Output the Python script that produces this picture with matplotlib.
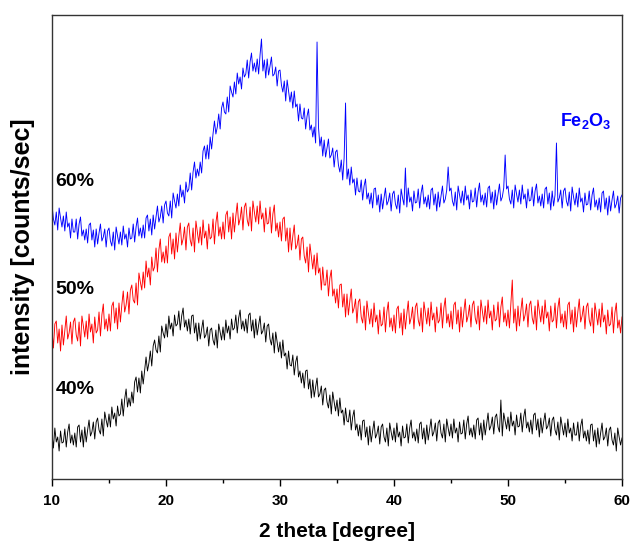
import matplotlib.pyplot as plt
import numpy as np

plt.rcParams['font.family'] = ['Liberation Sans', 'DejaVu Sans']
plt.rcParams['mathtext.fontset'] = 'custom'
plt.rcParams['mathtext.rm'] = 'Liberation Sans:bold'
plt.rcParams['mathtext.it'] = 'Liberation Sans:bold'
plt.rcParams['mathtext.bf'] = 'Liberation Sans:bold'

# 2 theta grid (degrees), 0.125 step
two_theta = np.arange(10, 60.0001, 0.125)

# intensity readings (arbitrary units, curves already offset as in the figure)
int_40 = [
    45, 31, 51, 37, 42, 28, 48, 36,  37, 50, 32, 47, 55, 36, 44, 34,
    46, 32, 52, 54, 37, 49, 32, 52,  37, 49, 59, 43, 47, 57, 40, 57,
    61, 49, 45, 60, 43, 67, 59, 52,  65, 52, 72, 60, 66, 53, 73, 63,
    65, 80, 63, 80, 90, 72, 81, 73,  87, 76, 97, 102, 87, 101, 86, 108,
    95, 109, 122, 108, 116, 128, 113, 133,  139, 129, 126, 143, 127, 153, 146, 141,
    155, 142, 163, 150, 156, 143, 164, 153,  155, 168, 149, 163, 171, 152, 159, 148,
    160, 145, 163, 164, 146, 156, 138, 156,  140, 150, 159, 141, 144, 152, 133, 149,
    151, 139, 134, 149, 131, 155, 147, 139,  152, 139, 159, 146, 153, 140, 160, 149,
    151, 164, 146, 161, 169, 150, 158, 148,  160, 146, 164, 166, 148, 159, 141, 160,
    144, 154, 163, 145, 148, 156, 137, 153,  155, 140, 134, 146, 126, 147, 137, 127,
    137, 121, 139, 123, 126, 110, 128, 114,  113, 124, 104, 117, 123, 102, 108, 96,
    106, 91, 108, 109, 90, 100, 81, 99,  82, 92, 101, 82, 85, 93, 74, 89,
    91, 77, 71, 84, 65, 87, 77, 68,  79, 63, 81, 66, 69, 54, 71, 58,
    57, 69, 49, 62, 69, 49, 55, 43,  54, 39, 58, 59, 42, 52, 34, 53,
    37, 48, 58, 41, 45, 53, 35, 52,  55, 42, 37, 51, 33, 56, 47, 39,
    51, 37, 56, 42, 47, 33, 53, 41,  42, 55, 36, 51, 59, 41, 47, 38,
    50, 36, 55, 57, 40, 51, 35, 54,  39, 50, 60, 43, 47, 56, 38, 56,
    59, 46, 41, 55, 37, 60, 51, 43,  55, 41, 60, 46, 51, 37, 57, 45,
    46, 59, 40, 55, 63, 44, 51, 42,  54, 40, 59, 61, 44, 56, 39, 59,
    44, 55, 66, 49, 53, 62, 45, 62,  65, 52, 47, 79, 43, 66, 58, 50,
    62, 48, 67, 53, 58, 44, 64, 52,  53, 66, 47, 62, 70, 51, 57, 47,
    59, 45, 64, 66, 49, 60, 42, 61,  46, 57, 66, 50, 53, 61, 43, 59,
    62, 49, 44, 57, 39, 62, 53, 44,  56, 42, 60, 46, 51, 38, 56, 44,
    44, 57, 38, 53, 60, 41, 48, 38,  49, 35, 54, 55, 38, 49, 32, 51,
    35, 46, 56, 39, 42, 51, 33, 49,  52, 39, 34, 46, 28, 51, 42, 34,
    41,
]
int_50 = [
    149, 131, 155, 158, 136, 150, 128, 154,  134, 149, 163, 140, 146, 157, 135, 157,
    161, 144, 138, 157, 133, 163, 153, 142,  158, 140, 165, 147, 155, 136, 162, 146,
    149, 167, 143, 164, 175, 150, 160, 148,  165, 148, 173, 177, 156, 171, 150, 176,
    157, 174, 188, 167, 174, 187, 165, 189,  194, 179, 176, 196, 174, 206, 197, 189,
    207, 191, 218, 202, 211, 194, 222, 208,  212, 231, 207, 229, 240, 217, 227, 216,
    233, 216, 242, 246, 225, 240, 220, 246,  227, 243, 256, 234, 240, 252, 229, 252,
    256, 239, 233, 251, 227, 258, 247, 236,  252, 234, 259, 241, 248, 230, 255, 240,
    242, 260, 235, 256, 267, 243, 252, 240,  257, 240, 264, 268, 247, 262, 240, 266,
    247, 263, 276, 254, 260, 272, 249, 272,  276, 259, 253, 272, 248, 278, 267, 257,
    273, 255, 278, 260, 266, 247, 271, 255,  256, 272, 246, 265, 274, 248, 256, 242,
    257, 238, 260, 262, 238, 251, 227, 251,  229, 243, 254, 230, 234, 244, 219, 240,
    242, 223, 216, 232, 207, 235, 222, 210,  224, 204, 226, 206, 211, 189, 212, 194,
    194, 209, 183, 201, 209, 183, 190, 176,  190, 171, 194, 195, 172, 185, 162, 185,
    164, 178, 190, 166, 171, 180, 156, 177,  180, 162, 156, 173, 149, 178, 166, 155,
    170, 152, 176, 157, 164, 145, 169, 153,  155, 172, 147, 167, 177, 152, 161, 148,
    164, 146, 170, 173, 151, 166, 144, 170,  150, 165, 178, 155, 161, 172, 150, 172,
    176, 159, 153, 171, 147, 177, 166, 155,  171, 153, 177, 159, 166, 147, 172, 156,
    159, 176, 151, 171, 181, 156, 165, 152,  168, 150, 174, 177, 155, 169, 147, 172,
    152, 167, 180, 157, 163, 174, 152, 174,  178, 161, 155, 173, 149, 179, 168, 157,
    173, 155, 179, 161, 168, 149, 174, 158,  160, 177, 152, 172, 182, 157, 166, 153,
    169, 151, 175, 199, 156, 170, 148, 173,  153, 168, 181, 158, 164, 175, 152, 174,
    178, 161, 155, 173, 149, 179, 168, 157,  173, 155, 179, 161, 167, 148, 173, 157,
    159, 176, 151, 171, 181, 156, 165, 152,  168, 150, 174, 177, 155, 169, 147, 172,
    152, 167, 180, 157, 163, 173, 150, 172,  176, 159, 153, 171, 146, 176, 165, 154,
    170, 152, 176, 157, 164, 145, 169, 153,  155, 172, 146, 166, 176, 151, 159, 146,
    162,
]
int_60 = [
    274, 260, 254, 267, 249, 271, 261, 252,  263, 248, 267, 252, 256, 241, 260, 247,
    247, 260, 240, 255, 262, 243, 249, 239,  250, 236, 254, 256, 239, 249, 232, 250,
    235, 246, 255, 238, 242, 250, 232, 248,  251, 238, 233, 247, 229, 252, 243, 235,
    247, 234, 253, 240, 245, 232, 251, 240,  241, 255, 237, 252, 261, 243, 251, 241,
    254, 241, 261, 264, 248, 260, 244, 264,  250, 262, 273, 257, 262, 273, 256, 274,
    278, 266, 263, 278, 261, 286, 278, 271,  285, 273, 294, 282, 289, 276, 297, 287,
    290, 306, 289, 307, 317, 301, 310, 303,  317, 306, 328, 333, 320, 334, 320, 342,
    330, 345, 358, 345, 352, 365, 350, 371,  377, 367, 365, 382, 367, 393, 387, 382,
    397, 385, 406, 395, 402, 390, 411, 402,  405, 419, 401, 417, 426, 408, 416, 407,
    420, 405, 424, 440, 408, 419, 401, 420,  404, 413, 422, 403, 405, 412, 393, 408,
    409, 394, 387, 398, 378, 399, 388, 377,  387, 371, 388, 372, 375, 358, 375, 361,
    360, 371, 350, 363, 370, 349, 354, 342,  352, 336, 437, 352, 333, 342, 323, 339,
    322, 331, 340, 321, 324, 331, 312, 327,  329, 314, 307, 319, 299, 321, 376, 300,
    310, 294, 312, 296, 300, 284, 301, 288,  287, 299, 279, 293, 300, 280, 286, 275,
    286, 271, 290, 291, 274, 284, 267, 285,  270, 281, 291, 274, 278, 286, 268, 285,
    288, 275, 270, 284, 266, 290, 281, 274,  311, 272, 291, 277, 282, 268, 288, 276,
    277, 290, 271, 286, 294, 275, 282, 272,  284, 270, 289, 291, 274, 285, 268, 287,
    272, 283, 293, 276, 280, 289, 312, 288,  291, 278, 273, 287, 269, 293, 284, 276,
    288, 274, 293, 279, 284, 270, 289, 277,  278, 291, 272, 287, 296, 277, 284, 274,
    286, 272, 291, 293, 276, 287, 270, 289,  274, 285, 295, 278, 282, 291, 324, 290,
    293, 280, 275, 289, 271, 294, 285, 277,  289, 275, 294, 280, 285, 271, 290, 278,
    279, 292, 273, 288, 295, 276, 283, 273,  285, 271, 290, 292, 275, 286, 269, 288,
    273, 284, 336, 277, 281, 289, 271, 288,  291, 278, 273, 287, 268, 292, 282, 274,
    286, 272, 291, 277, 281, 267, 286, 274,  275, 288, 269, 284, 291, 272, 279, 269,
    281, 267, 286, 288, 270, 281, 264, 283,  268, 279, 288, 271, 275, 283, 266, 281,
    284,
]

series = [(int_40, 'black', '40%', 89),
          (int_50, 'red', '50%', 190),
          (int_60, 'blue', '60%', 298)]

fig = plt.figure(figsize=(6.33, 5.43), dpi=100)
ax = fig.add_axes([52 / 633, 64 / 543, 570 / 633, 464 / 543])

for values, color, label, label_y in series:
    ax.plot(two_theta, values, color=color, lw=0.65)
    ax.text(10.3, label_y, label, fontsize=14, fontweight='bold',
            ha='left', va='center')

ax.text(56.8, 358, 'Fe$_2$O$_3$', color='blue', fontsize=13,
        fontweight='bold', ha='center', va='center')

ax.set_xlim(10, 60)
ax.set_ylim(0, 464)
ax.set_xticks(np.arange(10, 61, 10))
ax.set_xticks(np.arange(15, 60, 10), minor=True)
ax.set_yticks([])
ax.tick_params(axis='x', which='major', direction='out', length=5, width=1,
               labelsize=11, pad=6)
ax.tick_params(axis='x', which='minor', direction='out', length=3, width=1)
for lbl in ax.get_xticklabels():
    lbl.set_fontweight('bold')

ax.set_xlabel('2 theta [degree]', fontsize=15, fontweight='bold', labelpad=10)
ax.set_ylabel('intensity [counts/sec]', fontsize=18, fontweight='bold',
              labelpad=12)
for s in ax.spines.values():
    s.set_linewidth(1)
    s.set_color('#333333')

fig.savefig('out.png', dpi=100)
